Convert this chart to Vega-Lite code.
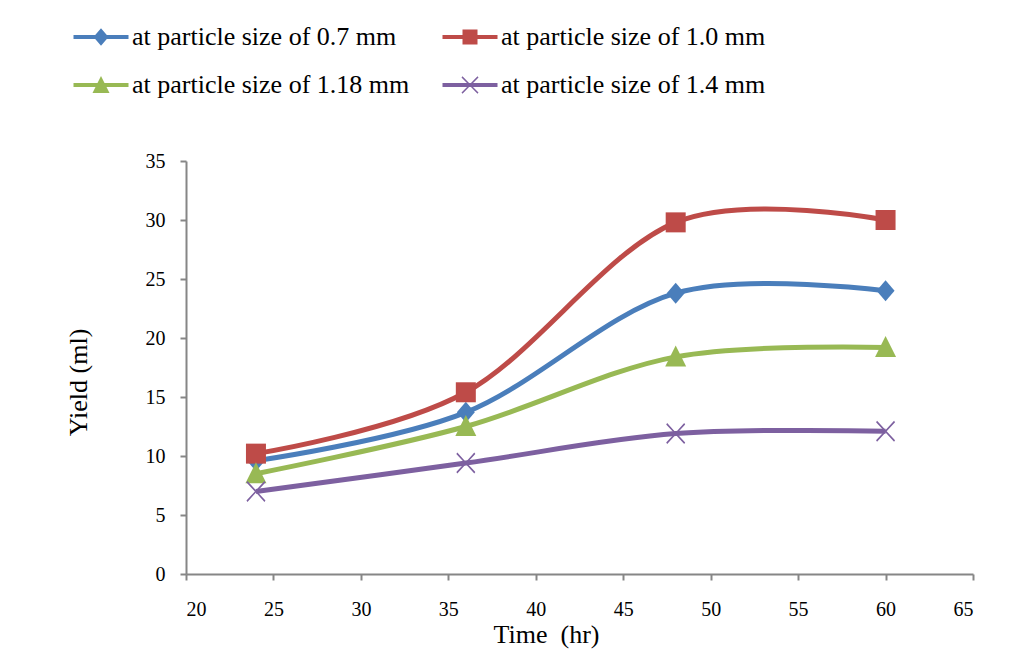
{
  "$schema": "https://vega.github.io/schema/vega-lite/v6.json",
  "width": 787,
  "height": 413,
  "autosize": {"type": "none"},
  "padding": {"left": 186, "top": 161, "right": 56, "bottom": 80},
  "background": "white",
  "config": {
    "view": {"stroke": null},
    "font": "Liberation Serif",
    "axis": {
      "domainColor": "#868686",
      "domainWidth": 2,
      "tickColor": "#868686",
      "tickWidth": 2,
      "tickSize": 6,
      "grid": false,
      "labelFont": "Liberation Serif",
      "labelFontSize": 20,
      "labelColor": "black",
      "titleFont": "Liberation Serif",
      "titleFontSize": 26,
      "titleFontWeight": "normal",
      "titleColor": "black"
    }
  },
  "data": {
    "values": [
      {"series": "at particle size of 0.7 mm", "time": 24, "yield": 9.6},
      {"series": "at particle size of 0.7 mm", "time": 36, "yield": 13.7},
      {"series": "at particle size of 0.7 mm", "time": 48, "yield": 23.8},
      {"series": "at particle size of 0.7 mm", "time": 60, "yield": 24.0},
      {"series": "at particle size of 1.0 mm", "time": 24, "yield": 10.2},
      {"series": "at particle size of 1.0 mm", "time": 36, "yield": 15.4},
      {"series": "at particle size of 1.0 mm", "time": 48, "yield": 29.8},
      {"series": "at particle size of 1.0 mm", "time": 60, "yield": 30.0},
      {"series": "at particle size of 1.18 mm", "time": 24, "yield": 8.5},
      {"series": "at particle size of 1.18 mm", "time": 36, "yield": 12.5},
      {"series": "at particle size of 1.18 mm", "time": 48, "yield": 18.4},
      {"series": "at particle size of 1.18 mm", "time": 60, "yield": 19.2},
      {"series": "at particle size of 1.4 mm", "time": 24, "yield": 7.0},
      {"series": "at particle size of 1.4 mm", "time": 36, "yield": 9.4},
      {"series": "at particle size of 1.4 mm", "time": 48, "yield": 11.9},
      {"series": "at particle size of 1.4 mm", "time": 60, "yield": 12.1}
    ]
  },
  "encoding": {
    "x": {
      "field": "time", "type": "quantitative",
      "scale": {"domain": [20, 65], "nice": false, "zero": false},
      "axis": {"values": [20, 25, 30, 35, 40, 45, 50, 55, 60, 65], "title": "Time \u00a0(hr)", "labelPadding": 19, "titlePadding": 2, "titleAnchor": "middle", "titleX": 360}
    },
    "y": {
      "field": "yield", "type": "quantitative",
      "scale": {"domain": [0, 35], "nice": false},
      "axis": {"values": [0, 5, 10, 15, 20, 25, 30, 35], "title": "Yield (ml)", "labelPadding": 15, "titlePadding": 54, "titleAnchor": "middle", "titleY": 221}
    }
  },
  "layer": [
    {
      "mark": {"type": "line", "interpolate": "cardinal", "strokeWidth": 5},
      "encoding": {
        "color": {
          "field": "series", "type": "nominal",
          "scale": {
            "domain": ["at particle size of 0.7 mm", "at particle size of 1.0 mm", "at particle size of 1.18 mm", "at particle size of 1.4 mm"],
            "range": ["#4A7EBB", "#BE4B48", "#98B954", "#7D60A0"]
          },
          "legend": null
        }
      }
    },
    {
      "mark": {"type": "point", "filled": true, "opacity": 1, "size": 400},
      "encoding": {
        "color": {
          "field": "series", "type": "nominal",
          "scale": {
            "domain": ["at particle size of 0.7 mm", "at particle size of 1.0 mm", "at particle size of 1.18 mm", "at particle size of 1.4 mm"],
            "range": ["#4A7EBB", "#BE4B48", "#98B954", "#7D60A0"]
          },
          "legend": null
        },
        "shape": {
          "field": "series", "type": "nominal",
          "scale": {
            "domain": ["at particle size of 0.7 mm", "at particle size of 1.0 mm", "at particle size of 1.18 mm", "at particle size of 1.4 mm"],
            "range": [
              "M0,-1.05L0.9,0L0,1.05L-0.9,0Z",
              "M-1,-1H1V1H-1Z",
              "M0,-1.15L1.05,0.95L-1.05,0.95Z",
              "M-0.95,-0.9L-0.85,-1.05L0,-0.12L0.85,-1.05L0.95,-0.9L0.11,0L0.95,0.9L0.85,1.05L0,0.12L-0.85,1.05L-0.95,0.9L-0.11,0Z"
            ]
          },
          "legend": null
        }
      }
    },
    {
      "mark": {"type": "point", "filled": true, "opacity": 0, "size": 400},
      "encoding": {
        "color": {
          "field": "series", "type": "nominal",
          "scale": {
            "domain": ["at particle size of 0.7 mm", "at particle size of 1.0 mm", "at particle size of 1.18 mm", "at particle size of 1.4 mm"],
            "range": ["#4A7EBB", "#BE4B48", "#98B954", "#7D60A0"]
          },
          "legend": {
            "orient": "none", "legendX": -98, "legendY": -137, "columns": 2, "direction": "horizontal", "title": null,
            "symbolOpacity": 1, "symbolSize": 400, "labelFont": "Liberation Serif", "labelFontSize": 26,
            "labelColor": "black", "labelOffset": 18, "rowPadding": 22, "columnPadding": 29, "labelLimit": 400
          }
        },
        "shape": {
          "field": "series", "type": "nominal",
          "scale": {
            "domain": ["at particle size of 0.7 mm", "at particle size of 1.0 mm", "at particle size of 1.18 mm", "at particle size of 1.4 mm"],
            "range": [
              "M-2.75,-0.2H2.75V0.2H-2.75ZM0,-0.88L0.75,0L0,0.88L-0.75,0Z",
              "M-2.75,-0.2H2.75V0.2H-2.75ZM-0.75,-0.75H0.75V0.75H-0.75Z",
              "M-2.75,-0.2H2.75V0.2H-2.75ZM0,-0.9L0.85,0.8L-0.85,0.8Z",
              "M-2.75,-0.2H2.75V0.2H-2.75ZM-0.85,-0.75L-0.75,-0.88L0,-0.1L0.75,-0.88L0.85,-0.75L0.1,0L0.85,0.75L0.75,0.88L0,0.1L-0.75,0.88L-0.85,0.75L-0.1,0Z"
            ]
          },
          "legend": {
            "orient": "none", "legendX": -98, "legendY": -137, "columns": 2, "direction": "horizontal", "title": null,
            "symbolOpacity": 1, "symbolSize": 400, "labelFont": "Liberation Serif", "labelFontSize": 26,
            "labelColor": "black", "labelOffset": 18, "rowPadding": 22, "columnPadding": 29, "labelLimit": 400
          }
        }
      }
    }
  ],
  "resolve": {"scale": {"shape": "independent", "color": "independent"}}
}
